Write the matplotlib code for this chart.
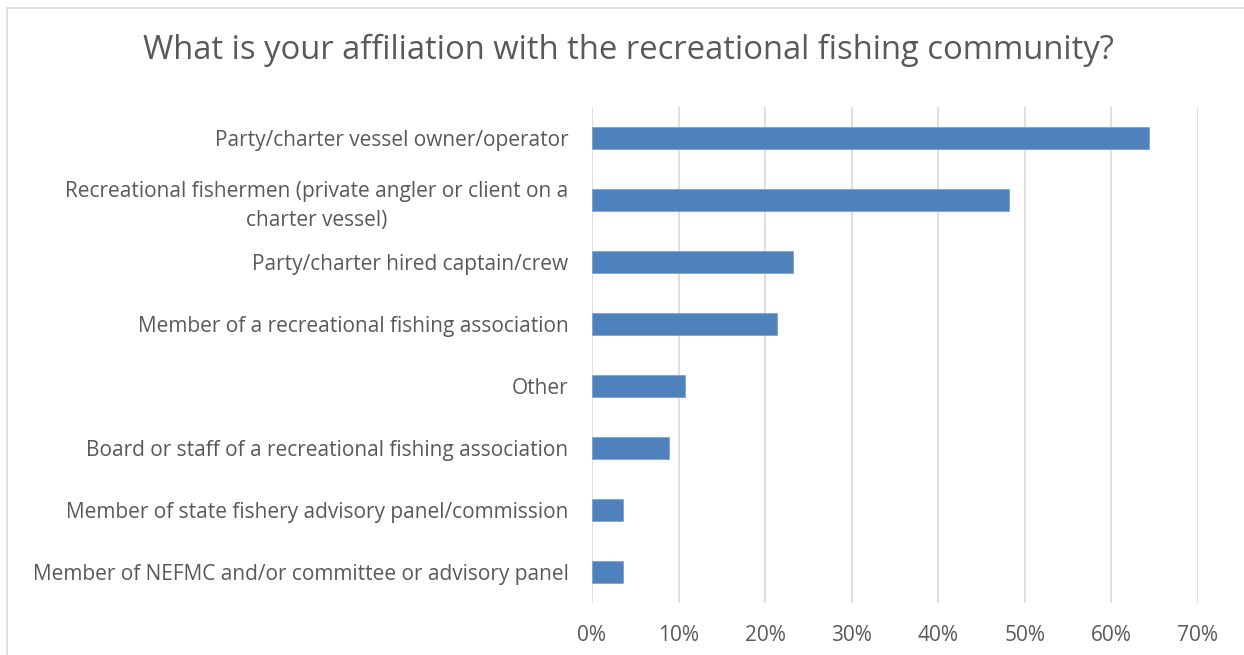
import matplotlib
matplotlib.use("Agg")
import matplotlib.pyplot as plt
from matplotlib.patches import Rectangle
from matplotlib.ticker import FuncFormatter

categories = [
    "Party/charter vessel owner/operator",
    "Recreational fishermen (private angler or client on a\ncharter vessel)",
    "Party/charter hired captain/crew",
    "Member of a recreational fishing association",
    "Other",
    "Board or staff of a recreational fishing association",
    "Member of state fishery advisory panel/commission",
    "Member of NEFMC and/or committee or advisory panel",
]
shares = [0.643, 0.482, 0.232, 0.214, 0.107, 0.089, 0.036, 0.036]
x_ticks = [0.0, 0.1, 0.2, 0.3, 0.4, 0.5, 0.6, 0.7]

W, H = 1244, 655
fig = plt.figure(figsize=(W / 100, H / 100), dpi=100)
fig.patch.set_facecolor("white")
plt.rcParams["font.family"] = ["Open Sans", "DejaVu Sans"]

text_color = "#595959"
grid_color = "#d9d9d9"
bar_color = "#4f81bd"

# chart frame (left and top edges fall inside the canvas)
fig.patches.append(Rectangle((7 / W, -0.1), 1.5, 1 - 8 / H + 0.1,
                             transform=fig.transFigure, fill=False,
                             edgecolor="#d9d9d9", linewidth=1.2))

ax = fig.add_axes([592 / W, 1 - 603 / H, (1198 - 592) / W, (603 - 107) / H])
y = list(range(len(categories)))
ax.barh(y, shares, height=0.35, color=bar_color, edgecolor="#7fa3d4",
        linewidth=0.6, zorder=3)
ax.set_ylim(len(categories) - 0.5, -0.5)
ax.set_xlim(0, 0.7)
ax.set_xticks(x_ticks)
ax.xaxis.set_major_formatter(FuncFormatter(lambda v, p: f"{v * 100:.0f}%"))
ax.set_yticks(y)
ax.set_yticklabels(categories, multialignment="center", linespacing=1.45)
ax.grid(axis="x", color=grid_color, linewidth=1.2, zorder=0)
for s in ax.spines.values():
    s.set_visible(False)
ax.tick_params(axis="both", length=0, colors=text_color, labelsize=15)
ax.tick_params(axis="y", pad=17)
ax.tick_params(axis="x", pad=16)

fig.text(628 / W, 1 - 50 / H, "What is your affiliation with the recreational fishing community?",
         ha="center", va="center", fontsize=23.6, color=text_color)

fig.savefig("out.png", dpi=100)
